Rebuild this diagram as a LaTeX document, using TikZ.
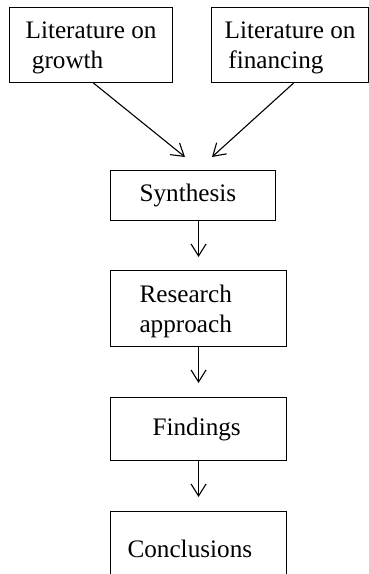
\documentclass[tikz,border=0pt]{standalone}
\usepackage{fontspec}
\setmainfont{Liberation Serif}
\usetikzlibrary{arrows.meta}
% taller first line, lowers a two-line text block slightly within its box
\newcommand{\topstrut}{\rule{0pt}{23pt}}
\begin{document}
\begin{tikzpicture}[x=1pt,y=-1pt,
  every node/.style={font=\fontsize{25.2}{30}\selectfont},
  box/.style={draw,line width=1.1pt,rectangle,anchor=north west,inner ysep=2pt},
  flow/.style={line width=1.1pt,-{Straight Barb[length=12pt,width=15pt,line width=1.1pt]}}]
\useasboundingbox (0,0) rectangle (369,574);
\begin{scope}
\clip (0,0) rectangle (369,574);
% source literature
\node[box,minimum width=163pt,minimum height=75pt,align=left] (lit1) at (9,7)
  {\topstrut Literature on\\\hspace*{.25em}growth};
\node[box,minimum width=157pt,minimum height=75pt,align=left] (lit2) at (211,7)
  {\topstrut Literature on\\\hspace*{.15em}financing};
% main chain
\node[box,inner xsep=29pt,text width=107pt,minimum height=50pt,align=left] (syn) at (110,170) {Synthesis};
\node[box,inner xsep=29pt,text width=118pt,minimum height=76pt,align=left] (res) at (110,270) {\topstrut Research\\approach};
\node[box,inner xsep=42pt,text width=92pt,minimum height=63pt,align=left] (fin) at (110,397) {Findings};
\node[box,inner xsep=17pt,text width=142pt,minimum height=74pt,align=left] (con) at (110,511) {Conclusions};
% arrow end points above the synthesis box
\coordinate (t1) at (185,157);
\coordinate (t2) at (212,157);
\draw[flow] ([xshift=2.5pt]lit1.south) -- (t1);
\draw[flow] ([xshift=3.5pt]lit2.south) -- (t2);
\draw[flow,shorten >=13pt] (syn.south -| res.north) -- (res.north);
\draw[flow,shorten >=14pt] (res.south) -- (fin.north);
\draw[flow,shorten >=14pt] (fin.south) -- (con.north);
\end{scope}
\end{tikzpicture}
\end{document}
